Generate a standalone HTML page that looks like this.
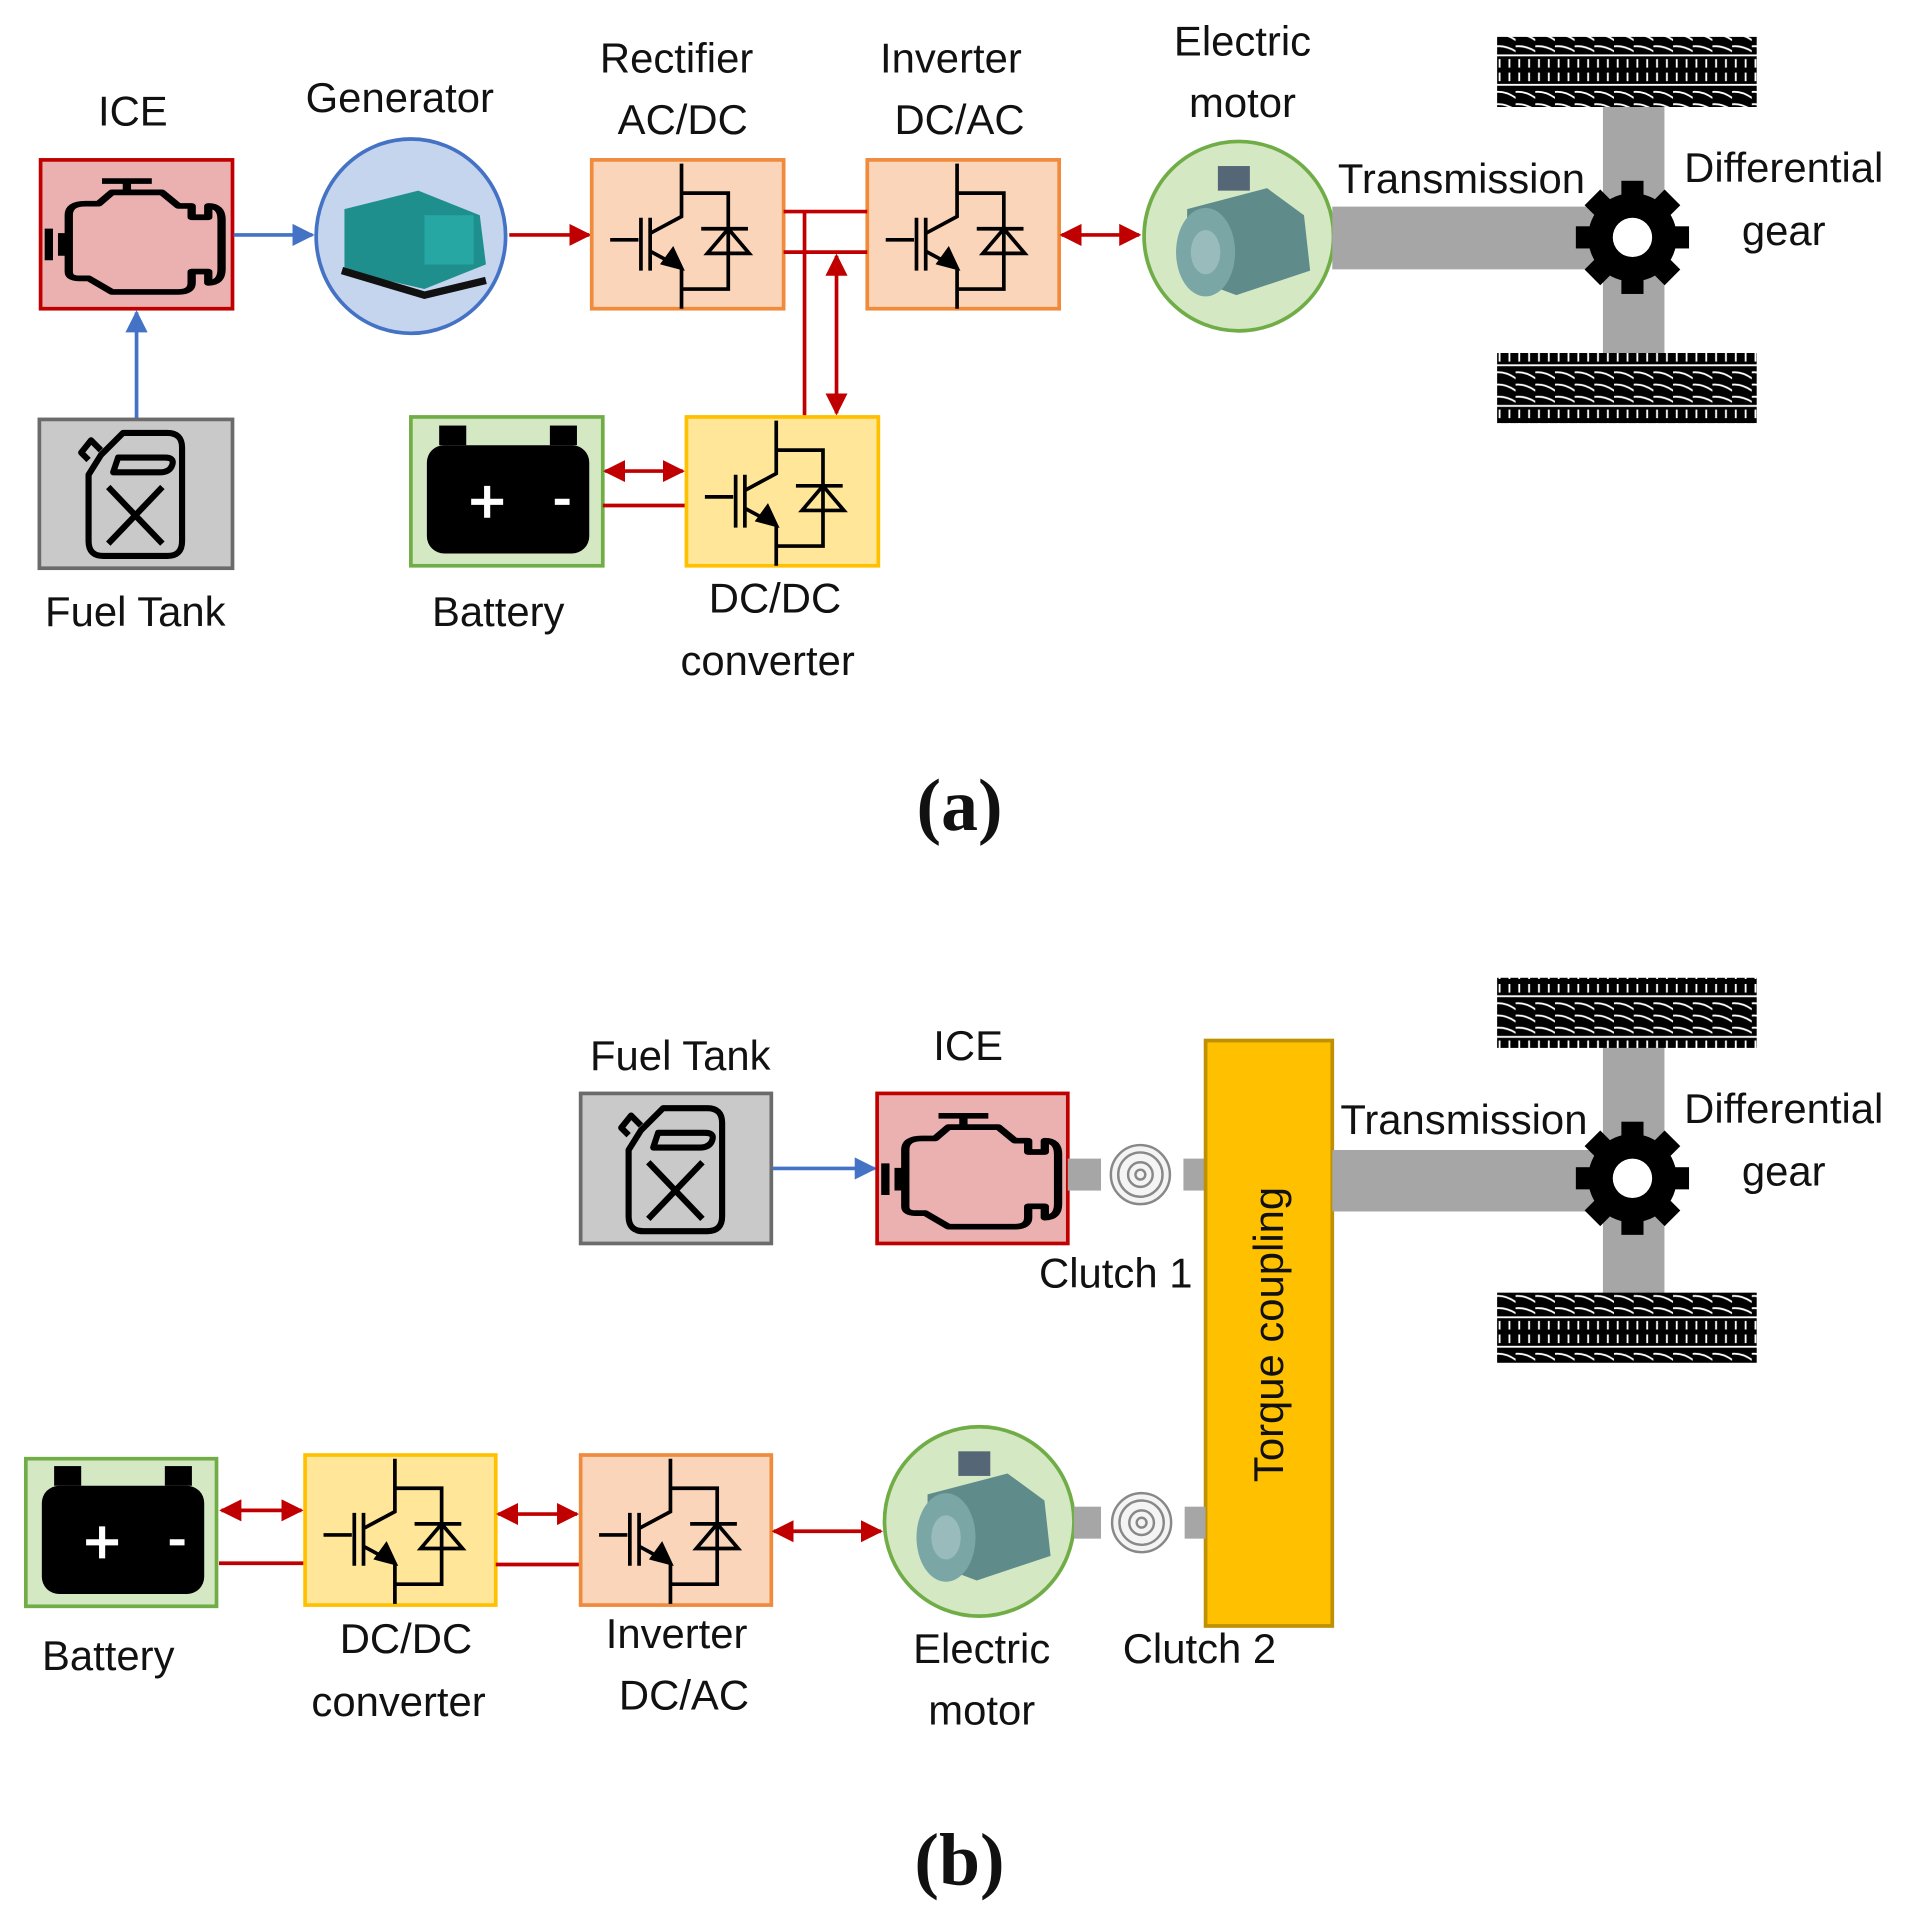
<!DOCTYPE html>
<html><head><meta charset="utf-8"><style>
html,body{margin:0;padding:0;background:#fff;}
svg{display:block;}
text{font-family:"Liberation Sans","DejaVu Sans",sans-serif;font-size:34px;fill:#111;}
.lab{text-anchor:middle;}
.cap{font-family:"Liberation Serif",serif;font-weight:bold;font-size:60px;text-anchor:middle;}
</style></head><body>
<svg width="1924" height="1931" viewBox="0 0 1564 1570" preserveAspectRatio="none" xmlns="http://www.w3.org/2000/svg">
<defs>
<marker id="rb" viewBox="0 0 10 10" refX="9" refY="5" markerWidth="6" markerHeight="6" orient="auto-start-reverse"><path d="M0,0L10,5L0,10z" fill="#c00000"/></marker>
<marker id="bb" viewBox="0 0 10 10" refX="9" refY="5" markerWidth="6" markerHeight="6" orient="auto"><path d="M0,0L10,5L0,10z" fill="#4472c4"/></marker>
<g id="igbt" fill="none" stroke="#000" stroke-width="3">
<path d="M73,3V46L47,60M73,27H111V105H73M73,88V121M15,65H38M40,47V90M47.5,47V90M47,74L73,88"/>
<path d="M89,56H127M111,56L94,76H128Z"/>
<path d="M58,84L73,88L66,73Z" fill="#000"/>
</g>
<g id="engine0" fill="none" stroke="#000" stroke-width="5" stroke-linejoin="round">
<path d="M-58,2V30M-50,6V26M-46,16H-50M-46,-10Q-46,-20 -36,-20H-28L-20,-30H10L20,-18H28V-8H38V-18Q46,-18 46,-6V38Q46,50 38,50V40H28V50Q28,58 20,58H-20L-34,46H-40Q-46,46 -46,40Z"/>
<path d="M-26,-40H4M-11,-40V-30"/>
</g>
<g id="engine"><use href="#engine0" transform="translate(8,-6) scale(1.35,0.92)"/></g>
<g id="tank" fill="none" stroke="#000" stroke-width="5" stroke-linejoin="round">
<path d="M-28,-32L-10,-50H26Q38,-50 38,-38V38Q38,50 26,50H-26Q-38,50 -38,38V-16Z"/>
<path d="M-38,-28L-44,-34L-36,-44L-28,-36"/>
<path d="M-14,-30H24Q32,-30 30,-24Q28,-18 20,-18H-18Z"/>
<path d="M-22,-6L22,40M22,-6L-22,40"/>
</g>
<g id="batt">
<rect x="-66" y="-38" width="132" height="88" rx="14" fill="#000"/>
<rect x="-56" y="-54" width="22" height="16" fill="#000"/>
<rect x="34" y="-54" width="22" height="16" fill="#000"/>
<path d="M-30,8H-4M-17,-5V21M38,8H50" stroke="#fff" stroke-width="5"/>
</g>
<pattern id="tread" width="16" height="57" patternUnits="userSpaceOnUse">
<rect width="16" height="57" fill="#000"/>
<path d="M3,2V9M11,2V9M0,12H16M0,45H16M3,48V55M11,48V55" stroke="#fff" stroke-width="1.5"/>
<path d="M-2,18Q8,16 18,24M-2,28Q8,26 18,34M-2,38Q8,36 18,43" stroke="#fff" stroke-width="1.5" fill="none"/>
</pattern>
<g id="gear">
<circle r="36" fill="#000"/>
<g fill="#000">
<rect x="-9" y="-46" width="18" height="92"/>
<rect x="-9" y="-46" width="18" height="92" transform="rotate(45)"/>
<rect x="-9" y="-46" width="18" height="92" transform="rotate(90)"/>
<rect x="-9" y="-46" width="18" height="92" transform="rotate(135)"/>
</g>
<circle r="16" fill="#fff"/>
</g>
<g id="motor">
<path d="M-45,-25L20,-42L50,-20L55,25L-5,45L-45,30Z" fill="#5f8c8a"/>
<ellipse cx="-30" cy="10" rx="24" ry="36" fill="#7aa6a6"/>
<ellipse cx="-30" cy="10" rx="12" ry="18" fill="#9bb"/>
<rect x="-20" y="-60" width="26" height="20" fill="#567"/>
</g>
<g id="clutch" fill="none" stroke="#888" stroke-width="2">
<circle r="24" fill="#f4f4f4"/><circle r="18"/><circle r="10"/><circle r="4"/>
</g>
</defs>

<!-- (a) -->
<text class="lab" x="108" y="102">ICE</text>
<rect x="33" y="130" width="156" height="121" fill="#eab1b0" stroke="#c00000" stroke-width="3"/>
<use href="#engine" x="110" y="190"/>
<line x1="190" y1="191" x2="254" y2="191" stroke="#4472c4" stroke-width="3" marker-end="url(#bb)"/>
<rect x="32" y="341" width="157" height="121" fill="#c9c9c9" stroke="#6b6b6b" stroke-width="3"/>
<use href="#tank" x="110" y="402"/>
<line x1="111" y1="340" x2="111" y2="254" stroke="#4472c4" stroke-width="3" marker-end="url(#bb)"/>
<text class="lab" x="110" y="509">Fuel Tank</text>

<text class="lab" x="325" y="91">Generator</text>
<ellipse cx="334" cy="192" rx="77" ry="79" fill="#c5d5ee" stroke="#4472c4" stroke-width="3"/>
<path d="M280,170L340,155L390,175L395,215L345,235L280,220Z" fill="#1e8f8c"/>
<rect x="345" y="175" width="40" height="40" fill="#27a7a3"/>
<path d="M278,220L345,240L395,228" stroke="#111" stroke-width="6" fill="none"/>
<line x1="414" y1="191" x2="479" y2="191" stroke="#c00000" stroke-width="3" marker-end="url(#rb)"/>

<text class="lab" x="550" y="59">Rectifier</text>
<text class="lab" x="555" y="109">AC/DC</text>
<rect x="481" y="130" width="156" height="121" fill="#fbd5b9" stroke="#f08a3c" stroke-width="3"/>
<use href="#igbt" x="481" y="130"/>
<text class="lab" x="773" y="59">Inverter</text>
<text class="lab" x="780" y="109">DC/AC</text>
<rect x="705" y="130" width="156" height="121" fill="#fbd5b9" stroke="#f08a3c" stroke-width="3"/>
<use href="#igbt" x="705" y="130"/>
<path d="M637,172H705M637,205H705M654,172V338" stroke="#c00000" stroke-width="3" fill="none"/>
<line x1="680" y1="208" x2="680" y2="336" stroke="#c00000" stroke-width="3" marker-start="url(#rb)" marker-end="url(#rb)"/>
<line x1="863" y1="191" x2="926" y2="191" stroke="#c00000" stroke-width="3" marker-start="url(#rb)" marker-end="url(#rb)"/>

<text class="lab" x="1010" y="45">Electric</text>
<text class="lab" x="1010" y="95">motor</text>
<circle cx="1007" cy="192" r="77" fill="#d5e8c4" stroke="#70ad47" stroke-width="3"/>
<use href="#motor" x="1010" y="195"/>

<rect x="1083" y="168" width="220" height="51" fill="#a6a6a6"/>
<rect x="1303" y="85" width="50" height="205" fill="#a6a6a6"/>
<rect x="1217" y="30" width="211" height="57" fill="url(#tread)"/>
<rect x="1217" y="287" width="211" height="57" fill="url(#tread)"/>
<use href="#gear" x="1327" y="193"/>
<text class="lab" x="1188" y="157">Transmission</text>
<text class="lab" x="1450" y="148">Differential</text>
<text class="lab" x="1450" y="199">gear</text>

<rect x="334" y="339" width="156" height="121" fill="#d5e8c4" stroke="#70ad47" stroke-width="3"/>
<use href="#batt" x="413" y="400"/>
<text class="lab" x="405" y="509">Battery</text>
<line x1="492" y1="383" x2="555" y2="383" stroke="#c00000" stroke-width="3" marker-start="url(#rb)" marker-end="url(#rb)"/>
<line x1="490" y1="411" x2="558" y2="411" stroke="#c00000" stroke-width="3"/>
<rect x="558" y="339" width="156" height="121" fill="#ffe699" stroke="#ffc000" stroke-width="3"/>
<use href="#igbt" x="558" y="339"/>
<text class="lab" x="630" y="498">DC/DC</text>
<text class="lab" x="624" y="549">converter</text>
<text class="cap" x="780" y="675">(a)</text>

<!-- (b) -->
<text class="lab" x="553" y="870">Fuel Tank</text>
<rect x="472" y="889" width="155" height="122" fill="#c9c9c9" stroke="#6b6b6b" stroke-width="3"/>
<use href="#tank" x="549" y="951"/>
<line x1="628" y1="950" x2="711" y2="950" stroke="#4472c4" stroke-width="3" marker-end="url(#bb)"/>
<text class="lab" x="787" y="862">ICE</text>
<rect x="713" y="889" width="155" height="122" fill="#eab1b0" stroke="#c00000" stroke-width="3"/>
<use href="#engine" x="790" y="950"/>
<rect x="868" y="942" width="27" height="26" fill="#a6a6a6"/>
<use href="#clutch" x="927" y="955"/>
<rect x="962" y="942" width="18" height="26" fill="#a6a6a6"/>
<text class="lab" x="907" y="1047">Clutch 1</text>

<rect x="980" y="846" width="103" height="476" fill="#ffc000" stroke="#bf9000" stroke-width="3"/>
<text class="lab" x="0" y="0" transform="translate(1043,1085) rotate(-90)">Torque coupling</text>

<rect x="1083" y="935" width="220" height="50" fill="#a6a6a6"/>
<rect x="1303" y="850" width="50" height="205" fill="#a6a6a6"/>
<rect x="1217" y="795" width="211" height="57" fill="url(#tread)"/>
<rect x="1217" y="1051" width="211" height="57" fill="url(#tread)"/>
<use href="#gear" x="1327" y="958"/>
<text class="lab" x="1190" y="922">Transmission</text>
<text class="lab" x="1450" y="913">Differential</text>
<text class="lab" x="1450" y="964">gear</text>

<rect x="21" y="1186" width="155" height="120" fill="#d5e8c4" stroke="#70ad47" stroke-width="3"/>
<use href="#batt" x="100" y="1246"/>
<text class="lab" x="88" y="1358">Battery</text>
<line x1="180" y1="1228" x2="245" y2="1228" stroke="#c00000" stroke-width="3" marker-start="url(#rb)" marker-end="url(#rb)"/>
<line x1="178" y1="1271" x2="248" y2="1271" stroke="#c00000" stroke-width="3"/>
<rect x="248" y="1183" width="155" height="122" fill="#ffe699" stroke="#ffc000" stroke-width="3"/>
<use href="#igbt" x="248" y="1183"/>
<text class="lab" x="330" y="1344">DC/DC</text>
<text class="lab" x="324" y="1395">converter</text>
<line x1="405" y1="1231" x2="469" y2="1231" stroke="#c00000" stroke-width="3" marker-start="url(#rb)" marker-end="url(#rb)"/>
<line x1="403" y1="1272" x2="472" y2="1272" stroke="#c00000" stroke-width="3"/>
<rect x="472" y="1183" width="155" height="122" fill="#fbd5b9" stroke="#f08a3c" stroke-width="3"/>
<use href="#igbt" x="472" y="1183"/>
<text class="lab" x="550" y="1340">Inverter</text>
<text class="lab" x="556" y="1390">DC/AC</text>
<line x1="629" y1="1245" x2="716" y2="1245" stroke="#c00000" stroke-width="3" marker-start="url(#rb)" marker-end="url(#rb)"/>
<circle cx="796" cy="1237" r="77" fill="#d5e8c4" stroke="#70ad47" stroke-width="3"/>
<use href="#motor" x="799" y="1240"/>
<text class="lab" x="798" y="1352">Electric</text>
<text class="lab" x="798" y="1402">motor</text>
<rect x="873" y="1225" width="22" height="26" fill="#a6a6a6"/>
<use href="#clutch" x="928" y="1238"/>
<rect x="963" y="1225" width="17" height="26" fill="#a6a6a6"/>
<text class="lab" x="975" y="1352">Clutch 2</text>
<text class="cap" x="780" y="1532">(b)</text>
</svg>
</body></html>
